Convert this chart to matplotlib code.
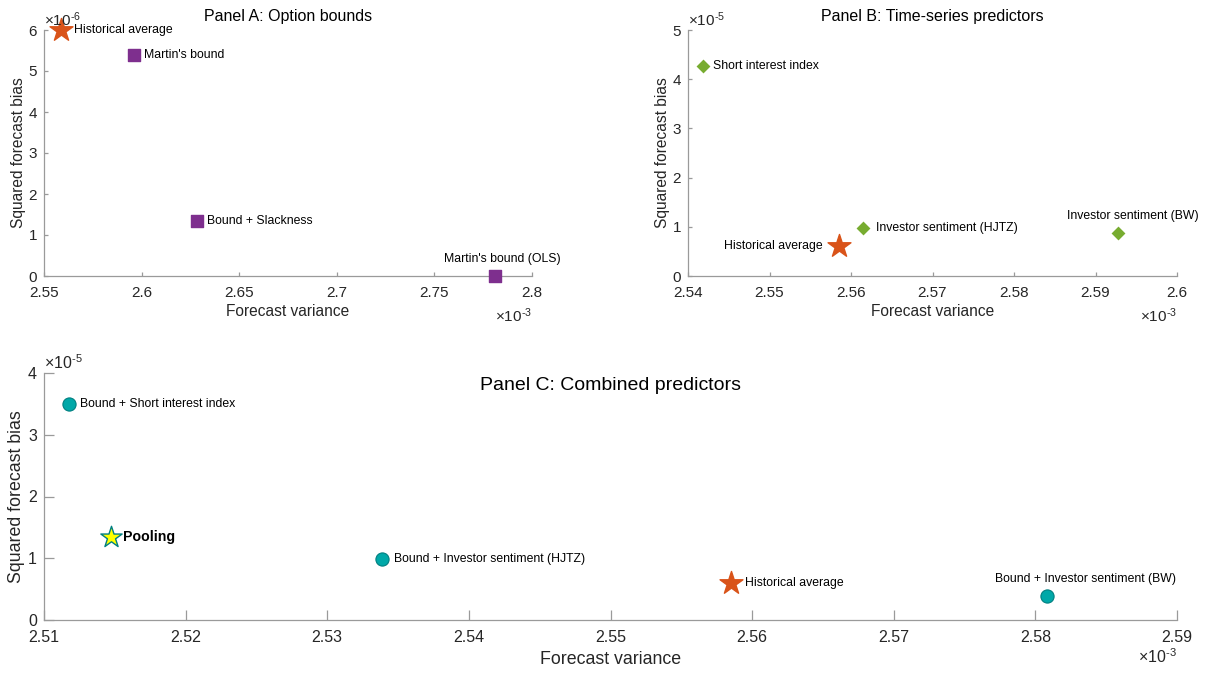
import matplotlib
matplotlib.use("Agg")
import matplotlib.pyplot as plt
from matplotlib.ticker import FuncFormatter, FixedLocator

plt.rcParams['font.family'] = ['Liberation Sans', 'DejaVu Sans']
plt.rcParams['mathtext.fontset'] = 'custom'
plt.rcParams['mathtext.rm'] = 'Liberation Sans'
plt.rcParams['mathtext.it'] = 'Liberation Sans'
plt.rcParams['mathtext.bf'] = 'Liberation Sans:bold'

# ---------------- data ----------------
# Panel A: option bounds
a_names = ["Martin's bound", "Bound + Slackness", "Martin's bound (OLS)"]
a_var = [2.5961e-3, 2.6284e-3, 2.7810e-3]
a_bias = [5.40e-6, 1.34e-6, 0.0]

# Historical average benchmark (shared)
hist_var = 2.5585e-3
hist_bias = 6.0e-6

# Panel B: time-series predictors
b_names = ["Short interest index", "Investor sentiment (HJTZ)", "Investor sentiment (BW)"]
b_var = [2.5418e-3, 2.5615e-3, 2.5928e-3]
b_bias = [4.26e-5, 0.98e-5, 0.87e-5]

# Panel C: combined predictors
c_names = ["Bound + Short interest index", "Bound + Investor sentiment (HJTZ)",
           "Bound + Investor sentiment (BW)"]
c_var = [2.5118e-3, 2.5339e-3, 2.5808e-3]
c_bias = [3.50e-5, 0.98e-5, 0.39e-5]
pool_var = 2.5147e-3
pool_bias = 1.34e-5

# axis ticks
a_xticks = [2.55e-3, 2.60e-3, 2.65e-3, 2.70e-3, 2.75e-3, 2.80e-3]
a_yticks = [0, 1e-6, 2e-6, 3e-6, 4e-6, 5e-6, 6e-6]
b_xticks = [2.54e-3, 2.55e-3, 2.56e-3, 2.57e-3, 2.58e-3, 2.59e-3, 2.60e-3]
b_yticks = [0, 1e-5, 2e-5, 3e-5, 4e-5, 5e-5]
c_xticks = [2.51e-3, 2.52e-3, 2.53e-3, 2.54e-3, 2.55e-3, 2.56e-3, 2.57e-3, 2.58e-3, 2.59e-3]
c_yticks = [0, 1e-5, 2e-5, 3e-5, 4e-5]

ORANGE = '#D95319'
PURPLE = '#7E2F8E'
GREEN = '#77AC30'
TEAL = '#00A8A8'
TEAL_EDGE = '#007F80'
SPINE = '#9a9a9a'
TXT = '#262626'
HY = '\u2010'  # hyphen used in MATLAB-style exponents

fig = plt.figure(figsize=(12.09, 6.73), dpi=100)
W, H = 1209, 673


def px_axes(l, t, r, b):
    return fig.add_axes([l / W, (H - b) / H, (r - l) / W, (b - t) / H])


def fmt_scaled(scale):
    def f(v, pos):
        s = ('%.4f' % (v * scale)).rstrip('0').rstrip('.')
        return s
    return FuncFormatter(f)


def style(ax, xt, yt, xs, ys, xexp, yexp, ticklen, lab_fs, tick_fs,
          xlabel_pad, xexp_y):
    for s in ['top', 'right']:
        ax.spines[s].set_visible(False)
    for s in ['left', 'bottom']:
        ax.spines[s].set_color(SPINE)
        ax.spines[s].set_linewidth(0.9)
    ax.set_xlim(xt[0], xt[-1])
    ax.set_ylim(yt[0], yt[-1])
    ax.xaxis.set_major_locator(FixedLocator(xt))
    ax.yaxis.set_major_locator(FixedLocator(yt))
    ax.xaxis.set_major_formatter(fmt_scaled(xs))
    ax.yaxis.set_major_formatter(fmt_scaled(ys))
    ax.tick_params(direction='in', length=ticklen, width=0.9, color=SPINE,
                   labelcolor=TXT, labelsize=tick_fs)
    ax.tick_params(axis='x', pad=7)
    ax.tick_params(axis='y', pad=5)
    ax.set_xlabel('Forecast variance', fontsize=lab_fs, color=TXT, labelpad=xlabel_pad)
    ax.set_ylabel('Squared forecast bias', fontsize=lab_fs, color=TXT, labelpad=2)
    ax.annotate(r'$\times10^{%s%s}$' % (HY, yexp), (0.0, 1.0), xycoords='axes fraction',
                xytext=(0, 1), textcoords='offset points', ha='left',
                va='bottom', fontsize=tick_fs, color=TXT)
    ax.text(1.0, xexp_y, r'$\times10^{%s%s}$' % (HY, xexp), transform=ax.transAxes,
            ha='right', va='top', fontsize=tick_fs, color=TXT)


def label(ax, x, y, s, mode='right', fs=8.8, weight='normal', off=9):
    if mode == 'right':
        ax.annotate(s, (x, y), xytext=(off, 0), textcoords='offset points',
                    ha='left', va='center', fontsize=fs, fontweight=weight, color='black')
    elif mode == 'left':
        ax.annotate(s, (x, y), xytext=(-off, 0), textcoords='offset points',
                    ha='right', va='center', fontsize=fs, fontweight=weight, color='black')
    else:
        ax.annotate(s, (x, y), xytext=(-37, 12.5), textcoords='offset points',
                    ha='left', va='center', fontsize=fs, fontweight=weight, color='black')


# ---------------- Panel A ----------------
axA = px_axes(44, 30, 532, 276)
axA.scatter(a_var, a_bias, marker='s', s=64, color=PURPLE, zorder=3, clip_on=False)
axA.scatter([hist_var], [hist_bias], marker='*', s=300, color=ORANGE, zorder=3, clip_on=False)
label(axA, hist_var, hist_bias, 'Historical average', off=9.5)
label(axA, a_var[0], a_bias[0], a_names[0], off=7.5)
label(axA, a_var[1], a_bias[1], a_names[1], off=7)
label(axA, a_var[2], a_bias[2], a_names[2], mode='above')
style(axA, a_xticks, a_yticks, 1e3, 1e6, '3', '6', 3, 11.2, 11, 3, -0.125)
axA.text(0.5, 1.0, 'Panel A: Option bounds', transform=axA.transAxes, ha='center',
         va='center', fontsize=11.5, color='black').set_position((0.5, 1 + 13 / 246))

# ---------------- Panel B ----------------
axB = px_axes(688, 30, 1177, 276)
axB.scatter(b_var, b_bias, marker='D', s=50, color=GREEN, zorder=3, clip_on=False,
            linewidths=0)
axB.scatter([hist_var], [hist_bias], marker='*', s=300, color=ORANGE, zorder=3, clip_on=False)
label(axB, b_var[0], b_bias[0], b_names[0], off=7.5)
label(axB, b_var[1], b_bias[1], b_names[1], off=9)
label(axB, b_var[2], b_bias[2], b_names[2], mode='above')
label(axB, hist_var, hist_bias, 'Historical average', mode='left', off=11.5)
style(axB, b_xticks, b_yticks, 1e3, 1e5, '3', '5', 3, 11.2, 11, 3, -0.125)
axB.text(0.5, 1 + 13 / 246, 'Panel B: Time-series predictors', transform=axB.transAxes,
         ha='center', va='center', fontsize=11.5, color='black')

# ---------------- Panel C ----------------
axC = px_axes(44, 373, 1177, 620)
axC.scatter(c_var, c_bias, marker='o', s=90, color=TEAL, edgecolors=TEAL_EDGE,
            linewidths=0.8, zorder=3, clip_on=False)
axC.scatter([hist_var], [hist_bias], marker='*', s=300, color=ORANGE, zorder=3, clip_on=False)
axC.scatter([pool_var], [pool_bias], marker='*', s=260, color='#FFFF00',
            edgecolors=TEAL_EDGE, linewidths=1.0, zorder=3, clip_on=False)
label(axC, c_var[0], c_bias[0], c_names[0], off=7.5)
label(axC, c_var[1], c_bias[1], c_names[1], off=8)
label(axC, c_var[2], c_bias[2], c_names[2], mode='above')
label(axC, hist_var, hist_bias, 'Historical average', off=10)
label(axC, pool_var, pool_bias, 'Pooling', fs=10.2, weight='bold', off=9)
style(axC, c_xticks, c_yticks, 1e3, 1e5, '3', '5', 7.5, 12.8, 11.5, 4.5, -0.11)
axC.text(0.5, (620 - 386) / 247, 'Panel C: Combined predictors', transform=axC.transAxes,
         ha='center', va='center', fontsize=14, color='black')

fig.savefig('out.png', dpi=100)
